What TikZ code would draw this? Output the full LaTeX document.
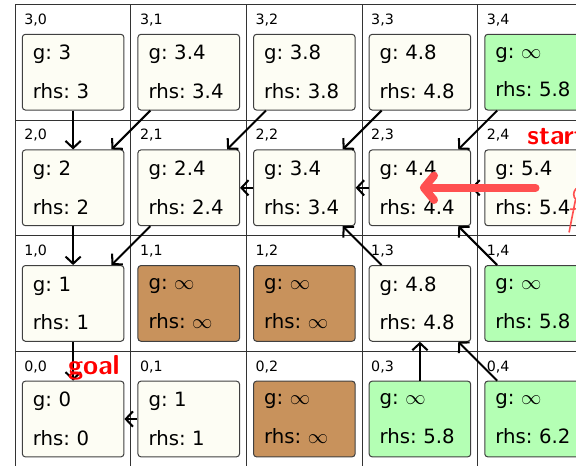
\documentclass[tikz,border=0pt]{standalone}
\usepackage{fontspec}
\newfontfamily\cellfont{DejaVu Sans}
\usepackage{tikz}
\usetikzlibrary{arrows.meta}
\definecolor{opencell}{RGB}{253,253,244}
\definecolor{newcell}{RGB}{180,255,180}
\definecolor{wallcell}{RGB}{200,146,92}
\definecolor{pathred}{RGB}{255,80,80}

\begin{document}
\begin{tikzpicture}[
		gridline/.style={draw=black!80, line width=0.55pt},
		cellbox/.style={draw=black!75, line width=0.5pt, rounded corners=1.5pt,
			inner xsep=5.2pt, inner ysep=0pt, minimum height=1.31cm, text width=39.6pt,
			align=left, font=\cellfont\frenchspacing\fontsize{9.7}{19.1}\selectfont},
		cornerlabel/.style={anchor=north west, inner sep=0pt, font=\cellfont\fontsize{7}{8}\selectfont},
		parentarrow/.style={line width=1pt, -{Straight Barb[length=3.5pt, width=7.5pt]}},
		startarrow/.style={pathred, line width=3.9pt, line cap=round, -{Straight Barb[length=5pt, width=12pt, round]}},
		marktext/.style={red, inner sep=0pt, font=\sffamily\bfseries\fontsize{13.5}{15}\selectfont}]
		\useasboundingbox (-0.265,0.02) rectangle (9.70,8.081);
		\clip (-0.265,0.02) rectangle (9.70,8.081);
		% grid of cells
		\draw[gridline] (0,0) grid[step=2] (10,8);
		% g and rhs values
		\foreach \r/\c/\g/\h/\kind in {
				3/0/3/3/opencell, 3/1/3.4/3.4/opencell, 3/2/3.8/3.8/opencell, 3/3/4.8/4.8/opencell, 3/4/$\infty$/5.8/newcell,
				2/0/2/2/opencell, 2/1/2.4/2.4/opencell, 2/2/3.4/3.4/opencell, 2/3/4.4/4.4/opencell, 2/4/5.4/5.4/opencell,
				1/0/1/1/opencell, 1/1/$\infty$/$\infty$/wallcell, 1/2/$\infty$/$\infty$/wallcell, 1/3/4.8/4.8/opencell, 1/4/$\infty$/5.8/newcell,
				0/0/0/0/opencell, 0/1/1/1/opencell, 0/2/$\infty$/$\infty$/wallcell, 0/3/$\infty$/5.8/newcell, 0/4/$\infty$/6.2/newcell} {
			\node[cornerlabel] (l\r\c) at (2*\c+0.15, 2*\r+1.85) {\r,\c};
			\node[cellbox, fill=\kind] (c\r\c) at (2*\c+1, 2*\r+0.832) {g: \g\\rhs: \h};
		}
		% back pointers
		\foreach \a/\b in {30/20, 31/20, 32/21, 33/22, 34/23, 22/21, 23/22, 24/23,
				20/10, 21/10, 13/22, 14/23, 10/00, 01/00, 03/13, 04/13}
			\draw[parentarrow] (c\a) -- (c\b);
		\draw[startarrow] (c24.center) -- (c23.center);
		\node[marktext, anchor=base] (goal) at (1.36,1.606) {goal};
		\node[marktext, anchor=base west] (start) at (8.853,5.573) {start};
		% robot
		\draw[pathred, line width=0.8pt] (9.79,4.72) circle (0.13);
		\draw[pathred, line width=0.8pt] (9.69,4.62) -- (9.58,4.06);
		\draw[pathred, line width=0.8pt] (9.6,4.46) -- (9.85,4.48);
	\end{tikzpicture}
\end{document}
